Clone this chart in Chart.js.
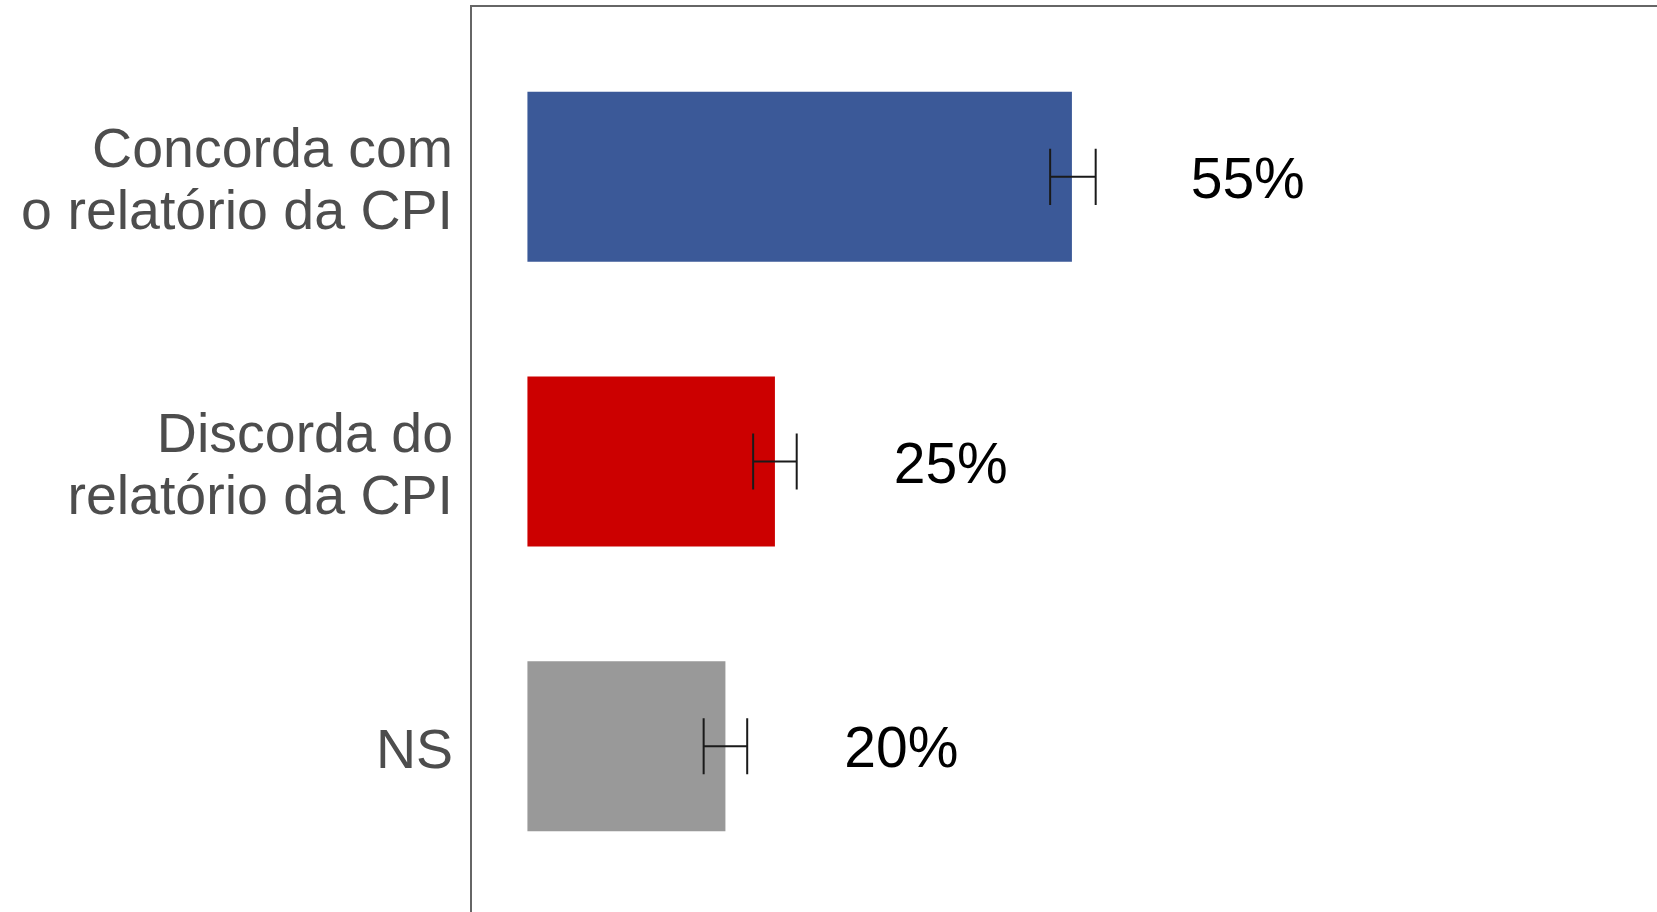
<!DOCTYPE html>
<html>
<head>
<meta charset="utf-8">
<script src="https://cdn.jsdelivr.net/npm/chart.js@4"></script>
<style>
  html, body { margin: 0; padding: 0; background: #ffffff; }
  #wrap { width: 1657px; height: 912px; }
</style>
</head>
<body>
<div id="wrap"><canvas id="myChart"></canvas></div>
<script>
// categories and values
var labels = [
    ["Concorda com", "o relatório da CPI"],
    ["Discorda do", "relatório da CPI"],
    ["NS"]
];
var values = [55, 25, 20];
var errLow = [52.8, 22.8, 17.8];
var errHigh = [57.4, 27.2, 22.2];
var valueLabels = ["55%", "25%", "20%"];
var barColors = ['#3B5998', '#CC0000', '#999999'];

var fontFamily = "'Liberation Sans', Arial, sans-serif";

// panel border (top + left only, the rest is outside the picture)
var panelBorder = {
    id: 'panelBorder',
    beforeDatasetsDraw: function (chart) {
        var a = chart.chartArea, ctx = chart.ctx;
        ctx.save();
        ctx.strokeStyle = '#666666';
        ctx.lineWidth = 2;
        ctx.beginPath();
        ctx.moveTo(a.left, a.bottom);
        ctx.lineTo(a.left, a.top);
        ctx.lineTo(a.right, a.top);
        ctx.stroke();
        ctx.restore();
    }
};

// error bars + percent labels
var extras = {
    id: 'extras',
    afterDatasetsDraw: function (chart) {
        var ctx = chart.ctx;
        var xs = chart.scales.x;
        var meta = chart.getDatasetMeta(0);
        ctx.save();
        meta.data.forEach(function (bar, i) {
            var x1 = xs.getPixelForValue(errLow[i]);
            var x2 = xs.getPixelForValue(errHigh[i]);
            var h = bar.height * 0.165;
            ctx.strokeStyle = '#1a1a1a';
            ctx.lineWidth = 2;
            ctx.beginPath();
            ctx.moveTo(x1, bar.y - h); ctx.lineTo(x1, bar.y + h);
            ctx.moveTo(x2, bar.y - h); ctx.lineTo(x2, bar.y + h);
            ctx.moveTo(x1, bar.y); ctx.lineTo(x2, bar.y);
            ctx.stroke();

            ctx.fillStyle = '#000000';
            ctx.font = '57px ' + fontFamily;
            ctx.textAlign = 'left';
            ctx.textBaseline = 'alphabetic';
            ctx.fillText(valueLabels[i], xs.getPixelForValue(values[i] + 12), bar.y + 21);
        });
        ctx.restore();
    }
};

var ctx = document.getElementById("myChart");
var myChart = new Chart(ctx, {
    type: 'bar',
    data: {
        datasets: [{
            data: values.map(function (v, i) { return { x: v, y: i + 1 }; }),
            backgroundColor: barColors,
            borderWidth: 0,
            barPercentage: 0.597,
            categoryPercentage: 1
        }]
    },
    options: {
        indexAxis: 'y',
        responsive: true,
        maintainAspectRatio: false,
        animation: false,
        layout: {
            padding: { top: 6, right: 0, bottom: 0, left: 0 }
        },
        plugins: {
            legend: { display: false },
            tooltip: { enabled: false },
            title: { display: false }
        },
        scales: {
            x: {
                type: 'linear',
                display: false,
                min: -5.7,
                max: 114.1
            },
            y: {
                type: 'linear',
                reverse: true,
                offset: false,
                min: 0.4,
                max: 3.582,
                afterBuildTicks: function (scale) {
                    scale.ticks = [1, 2, 3].map(function (v) { return { value: v }; });
                },
                afterFit: function (scale) {
                    scale.width = 471;
                    scale.paddingTop = 0;
                    scale.paddingBottom = 0;
                },
                grid: { display: false, drawTicks: false, offset: false },
                border: { display: false },
                ticks: {
                    padding: 18,
                    labelOffset: 6,
                    color: '#4d4d4d',
                    font: { family: fontFamily, size: 55.5, lineHeight: 1.13 },
                    callback: function (value) {
                        return labels[value - 1];
                    }
                }
            }
        }
    },
    plugins: [panelBorder, extras]
});
</script>
</body>
</html>
